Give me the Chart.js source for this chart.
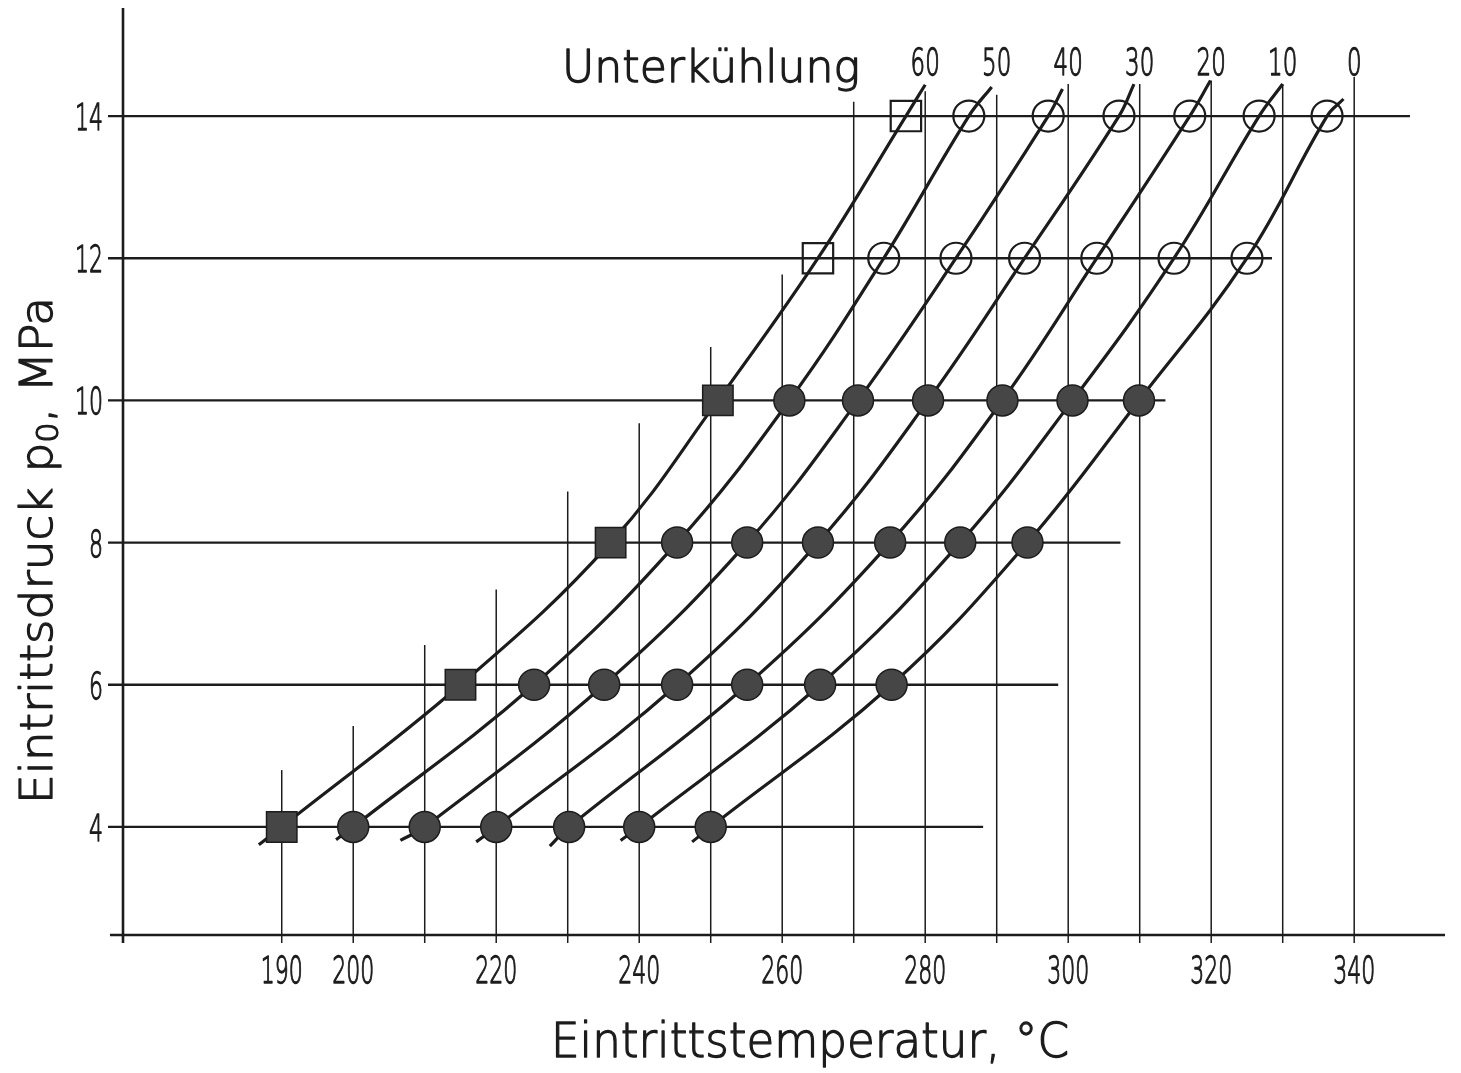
<!DOCTYPE html>
<html>
<head>
<meta charset="utf-8">
<title>Eintrittsdruck über Eintrittstemperatur</title>
<script src="https://cdn.jsdelivr.net/npm/chart.js@4.4.1/dist/chart.umd.min.js"></script>
<style>
  html, body { margin: 0; padding: 0; background: #fff; }
  #wrap { width: 1461px; height: 1073px; }
</style>
</head>
<body>
<div id="wrap"><canvas id="chart" width="1461" height="1073"></canvas></div>
<script>
// pressure levels of the measurements, MPa
const pressures = [4, 6, 8, 10, 12, 14];
// Unterkühlung (K), one curve each
const subcooling = [60, 50, 40, 30, 20, 10, 0];

// inlet temperature (°C) read at each pressure level, per curve
const temps60 = [190, 215, 236, 251, 265, 277.3];
const temps50 = [200, 225.3, 245.3, 261, 274.2, 286.1];
const temps40 = [210, 235.1, 255.1, 270.6, 284.3, 297.2];
const temps30 = [220, 245.3, 265, 280.4, 293.9, 307.1];
const temps20 = [230.2, 255.1, 275.1, 290.8, 304, 317];
const temps10 = [240, 265.3, 284.9, 300.6, 314.8, 326.7];
const temps0  = [250, 275.3, 294.3, 309.9, 325, 336.2];

// where the drawn curves run out below 4 MPa and above 14 MPa
const curveStartT = [186.8, 197.6, 206.6, 217.2, 227.5, 237.4, 247.4];
const curveStartP = [3.75, 3.82, 3.81, 3.79, 3.73, 3.81, 3.79];
const curveEndT = [280, 289.3, 299.2, 309.2, 319.9, 330, 338.5];
const curveEndP = [14.44, 14.41, 14.38, 14.45, 14.5, 14.45, 14.24];

// temperature grid and the labels printed under it
const tempTicks = [190, 200, 210, 220, 230, 240, 250, 260, 270, 280, 290, 300, 310, 320, 330, 340];
const tempLabels = [190, 200, 220, 240, 260, 280, 300, 320, 340];
// how far each temperature line reaches up (MPa)
const tempLineTop = [4.8, 5.42, 6.56, 7.34, 8.72, 9.68, 10.75, 11.77, 14.2, 14.35, 14.3, 14.45, 14.45, 14.5, 14.45, 14.55];
// how far each pressure line reaches to the right (°C)
const pressLineEnd = [288.1, 298.6, 307.3, 313.6, 328.5, 347.8];

const series = [temps60, temps50, temps40, temps30, temps20, temps10, temps0];

const INK = '#1c1c1c';
const FILL = '#464646';
const FONT = '"DejaVu Sans", "Liberation Sans", sans-serif';
const WEIGHT = '200';

const curveSets = subcooling.map((s, i) => ({
  label: 'dT ' + s,
  showLine: true,
  data: [{ x: curveStartT[i], y: curveStartP[i] }]
    .concat(series[i].map((t, j) => ({ x: t, y: pressures[j] })))
    .concat([{ x: curveEndT[i], y: curveEndP[i] }]),
  borderColor: INK,
  borderWidth: 3.2,
  pointRadius: 0,
  tension: 0.4,
  clip: false,
  order: 2
}));

function markerSet(i, filled) {
  const square = subcooling[i] === 60;
  const pts = series[i]
    .map((t, j) => ({ x: t, y: pressures[j] }))
    .filter(pt => filled ? pt.y <= 10 : pt.y >= 12);
  return {
    label: 'marker ' + subcooling[i] + (filled ? ' voll' : ' offen'),
    data: pts,
    showLine: false,
    pointStyle: square ? 'rect' : 'circle',
    pointRadius: square ? 21.5 : 15.5,
    backgroundColor: filled ? FILL : 'rgba(0,0,0,0)',
    borderColor: INK,
    borderWidth: filled ? 1.5 : 2.2,
    clip: false,
    order: 0
  };
}

const markerSets = [];
subcooling.forEach((s, i) => {
  markerSets.push(markerSet(i, true));
  markerSets.push(markerSet(i, false));
});

function seg(ctx, x1, y1, x2, y2) {
  ctx.beginPath();
  ctx.moveTo(x1, y1);
  ctx.lineTo(x2, y2);
  ctx.stroke();
}

// paper grid: lines of different length, axes overshooting a little
const gridPlugin = {
  id: 'paperGrid',
  beforeDatasetsDraw(chart) {
    const { ctx, scales: { x, y } } = chart;
    const x0 = x.getPixelForValue(x.min);
    const y0 = y.getPixelForValue(y.min);
    ctx.save();
    ctx.strokeStyle = INK;
    ctx.lineWidth = 2.3;
    pressures.forEach((p, i) => {
      const py = y.getPixelForValue(p);
      seg(ctx, x0 - 15, py, x.getPixelForValue(pressLineEnd[i]), py);
    });
    ctx.lineWidth = 1.5;
    tempTicks.forEach((t, i) => {
      const px = x.getPixelForValue(t);
      seg(ctx, px, y0 + 8, px, y.getPixelForValue(tempLineTop[i]));
    });
    ctx.lineWidth = 2.6;
    seg(ctx, x0 - 13, y0, x.right, y0);
    seg(ctx, x0, y0 + 8, x0, y.top);
    ctx.restore();
  }
};

// light lettering, squeezed sideways, with a thin outline to get the pen weight
function drawText(ctx, text, px, py, size, sx, align) {
  ctx.save();
  ctx.font = WEIGHT + ' ' + size + 'px ' + FONT;
  ctx.translate(px, py);
  ctx.scale(sx, 1);
  ctx.textAlign = align;
  ctx.textBaseline = 'alphabetic';
  ctx.lineWidth = 1.3;
  ctx.lineJoin = 'round';
  ctx.strokeStyle = INK;
  ctx.fillText(text, 0, 0);
  ctx.strokeText(text, 0, 0);
  ctx.restore();
}

function textWidth(ctx, text, size) {
  ctx.font = WEIGHT + ' ' + size + 'px ' + FONT;
  return ctx.measureText(text).width;
}

const textPlugin = {
  id: 'lettering',
  afterDraw(chart) {
    const { ctx, scales: { x, y } } = chart;
    const x0 = x.getPixelForValue(x.min);
    const y0 = y.getPixelForValue(y.min);
    ctx.save();
    ctx.fillStyle = INK;

    // pressure tick labels
    pressures.forEach(p => {
      drawText(ctx, String(p), x0 - 20, y.getPixelForValue(p) + 14, 38, 0.58, 'right');
    });
    // temperature tick labels
    tempLabels.forEach(t => {
      drawText(ctx, String(t), x.getPixelForValue(t), y0 + 48, 38, 0.58, 'center');
    });
    // curve labels, placed at 340 - Unterkühlung
    const yTop = y.getPixelForValue(14) - 41;
    subcooling.forEach(s => {
      drawText(ctx, String(s), x.getPixelForValue(340 - s), yTop, 37, 0.62, 'center');
    });
    const head = 'Unterkühlung';
    drawText(ctx, head, 562, 82, 44, 298 / textWidth(ctx, head, 44), 'left');

    // x axis title
    const xt = 'Eintrittstemperatur, °C';
    drawText(ctx, xt, 810, 1057, 48, 518 / textWidth(ctx, xt, 48), 'center');

    // y axis title with subscript, rotated
    const a = 'Eintrittsdruck p', b = '0', c = ', MPa';
    const wa = textWidth(ctx, a, 44), wb = textWidth(ctx, b, 30), wc = textWidth(ctx, c, 44);
    const sx = 507 / (wa + wb + wc);
    ctx.translate(52, 551);
    ctx.rotate(-Math.PI / 2);
    let cx = -253;
    drawText(ctx, a, cx, 0, 44, sx, 'left');
    cx += wa * sx;
    drawText(ctx, b, cx, 6, 30, sx, 'left');
    cx += wb * sx;
    drawText(ctx, c, cx, 0, 44, sx, 'left');
    ctx.restore();
  }
};

new Chart(document.getElementById('chart'), {
  type: 'scatter',
  data: { datasets: curveSets.concat(markerSets) },
  options: {
    responsive: false,
    animation: false,
    devicePixelRatio: 1,
    layout: { autoPadding: false, padding: { left: 123, right: 16, top: 8, bottom: 138 } },
    scales: {
      x: { type: 'linear', min: 167.8, max: 352.7, display: false },
      y: { type: 'linear', min: 2.48, max: 15.52, display: false }
    },
    plugins: {
      legend: { display: false },
      tooltip: { enabled: false }
    }
  },
  plugins: [gridPlugin, textPlugin]
});
</script>
</body>
</html>
